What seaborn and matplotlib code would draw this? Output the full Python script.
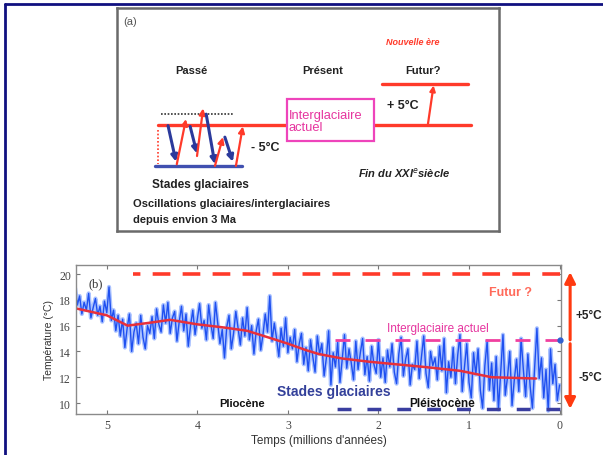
import numpy as np
import matplotlib.pyplot as plt
import seaborn as sns
from matplotlib.patches import Rectangle
from matplotlib.lines import Line2D

sns.set_theme(style="ticks")
plt.rcParams["font.family"] = ["Liberation Sans", "DejaVu Sans"]

# ---- panel (b) data: temperature (deg C) vs age (Ma) ----
ages = [5.350, 5.325, 5.300, 5.275, 5.250, 5.225, 5.200, 5.175, 5.150, 5.125,
        5.100, 5.075, 5.050, 5.025, 5.000, 4.975, 4.950, 4.925, 4.900, 4.875,
        4.850, 4.825, 4.800, 4.775, 4.750, 4.725, 4.700, 4.675, 4.650, 4.625,
        4.600, 4.575, 4.550, 4.525, 4.500, 4.475, 4.450, 4.425, 4.400, 4.375,
        4.350, 4.325, 4.300, 4.275, 4.250, 4.225, 4.200, 4.175, 4.150, 4.125,
        4.100, 4.075, 4.050, 4.025, 4.000, 3.975, 3.950, 3.925, 3.900, 3.875,
        3.850, 3.825, 3.800, 3.775, 3.750, 3.725, 3.700, 3.675, 3.650, 3.625,
        3.600, 3.575, 3.550, 3.525, 3.500, 3.475, 3.450, 3.425, 3.400, 3.375,
        3.350, 3.325, 3.300, 3.275, 3.250, 3.225, 3.200, 3.175, 3.150, 3.125,
        3.100, 3.075, 3.050, 3.025, 3.000, 2.975, 2.950, 2.925, 2.900, 2.875,
        2.850, 2.825, 2.800, 2.775, 2.750, 2.725, 2.700, 2.675, 2.650, 2.625,
        2.600, 2.575, 2.550, 2.525, 2.500, 2.475, 2.450, 2.425, 2.400, 2.375,
        2.350, 2.325, 2.300, 2.275, 2.250, 2.225, 2.200, 2.175, 2.150, 2.125,
        2.100, 2.075, 2.050, 2.025, 2.000, 1.975, 1.950, 1.925, 1.900, 1.875,
        1.850, 1.825, 1.800, 1.775, 1.750, 1.725, 1.700, 1.675, 1.650, 1.625,
        1.600, 1.575, 1.550, 1.525, 1.500, 1.475, 1.450, 1.425, 1.400, 1.375,
        1.350, 1.325, 1.300, 1.275, 1.250, 1.225, 1.200, 1.175, 1.150, 1.125,
        1.100, 1.075, 1.050, 1.025, 1.000, 0.975, 0.950, 0.925, 0.900, 0.875,
        0.850, 0.825, 0.800, 0.775, 0.750, 0.725, 0.700, 0.675, 0.650, 0.625,
        0.600, 0.575, 0.550, 0.525, 0.500, 0.475, 0.450, 0.425, 0.400, 0.375,
        0.350, 0.325, 0.300, 0.275, 0.250, 0.225, 0.200, 0.175, 0.150, 0.125,
        0.100, 0.075, 0.050, 0.025, 0.000]
temps = [18.9, 17.6, 18.3, 16.9, 17.8, 17.2, 18.5, 16.6, 17.4, 18.1,
         16.8, 17.5, 16.3, 17.9, 17.0, 19.0, 16.4, 17.2, 15.6, 16.8,
         15.2, 16.5, 14.3, 15.8, 16.9, 14.0, 15.5, 16.2, 14.6, 16.8,
         15.1, 14.2, 16.0, 15.4, 16.7, 15.0, 17.3, 16.1, 15.5, 17.6,
         16.2, 17.8, 15.4, 16.6, 17.1, 14.8, 16.3, 17.5, 15.6, 16.9,
         14.4, 16.0, 17.2, 15.3, 16.5, 17.7, 15.8, 16.4, 14.9, 17.6,
         16.1, 15.0, 17.8, 16.2, 14.6, 15.7, 13.5, 15.9, 16.8, 14.2,
         15.4, 17.1, 15.8, 14.5, 16.6, 15.2, 17.4, 14.9, 16.0, 13.8,
         15.6, 16.5, 14.1, 15.3, 16.9, 15.5, 18.3, 14.8, 16.2, 15.0,
         13.6, 15.8, 14.4, 16.6, 13.9, 15.1, 14.2, 15.7, 13.2, 14.6,
         15.4, 13.0, 14.3, 12.5, 14.9, 13.6, 12.4, 15.2, 13.8, 14.6,
         12.1, 13.5, 15.6, 11.4, 13.9, 12.8, 14.7, 11.6, 13.4, 15.3,
         12.7, 14.2, 13.1, 11.8, 14.8, 12.6, 13.9, 15.0, 12.2, 13.6,
         11.7, 14.4, 13.0, 12.3, 14.9, 12.0, 13.5, 11.6, 14.1, 12.8,
         14.6, 12.4, 11.5, 13.8, 15.1, 12.1, 13.4, 14.2, 11.4, 13.0,
         12.6, 14.8, 11.9, 13.6, 15.2, 12.3, 11.2, 14.0, 12.9, 13.5,
         11.8, 14.4, 12.5, 15.0, 10.8, 13.2, 12.0, 14.3, 11.5, 13.7,
         15.3, 10.9, 12.8, 14.6, 11.6, 10.4, 13.9, 12.2, 14.2, 11.0,
         9.6, 12.9, 14.8, 11.0, 13.1, 10.2, 13.6, 9.5, 12.4, 15.3,
         10.6, 12.0, 14.0, 9.8, 11.8, 13.4, 10.9, 15.0, 12.6, 10.5,
         13.8, 11.3, 9.6, 12.8, 15.8, 11.9, 13.5, 10.4, 12.6, 9.4,
         14.2, 11.5, 13.0, 10.2, 11.4]

trend_ages = [5.35, 5.00, 4.77, 4.55, 4.30, 4.00, 3.70, 3.45, 3.20, 3.00,
              2.80, 2.66, 2.40, 2.10, 1.80, 1.50, 1.10, 0.75, 0.26]
trend_temps = [17.35, 16.8, 16.0, 16.2, 16.45, 16.1, 15.85, 15.6, 15.05, 14.6,
               14.1, 13.8, 13.45, 13.2, 13.0, 12.8, 12.5, 12.0, 11.9]

future_level, future_start = 20.0, 4.71
present_level, present_start = 14.9, 2.48
glacial_level, glacial_start = 9.5, 2.48

x_ticks = [5, 4, 3, 2, 1, 0]
y_ticks = [10, 12, 14, 16, 18, 20]

# ---- panel (a) schematic: x = position in box (0-100), y = anomaly (deg C) ----
present_anom, future_anom, glacial_anom = 0, 5, -5
present_line_x = [10.7, 92.7]
future_line_x = [69.4, 91.9]
glacial_line_x = [9.9, 32.6]
dotted_x, dotted_y = [11.5, 30.3], 1.3
osc_x0 = [13.3, 15.6, 19.1, 20.9, 23.3, 25.6, 28.2, 31.1]
osc_y0 = [-0.1, -4.8, -0.2, -3.8, 1.3, -5.0, -1.5, -5.0]
osc_x1 = [15.4, 18.0, 20.9, 22.5, 25.6, 27.7, 30.3, 32.9]
osc_y1 = [-4.5, 0.7, -3.5, 2.0, -4.8, -1.5, -4.5, -0.2]

RED = "#ff3a2a"
NAVY = "#2b3a9c"
PINK = "#e6359f"

fig = plt.figure(figsize=(6.03, 4.56), dpi=100)
fig.patch.set_facecolor("white")

# frame lines of the page
fig.add_artist(Line2D([0.0083, 1.0], [0.989, 0.989], color="#101080", lw=2))
fig.add_artist(Line2D([0.0083, 0.0083], [0.0, 0.989], color="#101080", lw=2))

# ================= panel (a) =================
axa = fig.add_axes([0.1945, 0.4919, 0.6327, 0.4877])
axa.set_xlim(0, 100)
axa.set_ylim(-12.9, 14.2)
axa.set_xticks([])
axa.set_yticks([])
for s in axa.spines.values():
    s.set_color("#6a6a6a")
    s.set_linewidth(1.8)

axa.plot(present_line_x, [present_anom] * 2, color=RED, lw=2.4, zorder=1)
axa.plot(future_line_x, [future_anom] * 2, color=RED, lw=2.4)
axa.plot(glacial_line_x, [glacial_anom] * 2, color="#4050b0", lw=2.4)
axa.plot(dotted_x, [dotted_y] * 2, color="#333333", lw=1.2, ls=(0, (1, 1)))
axa.plot([10.7, 10.7], [-0.6, -4.8], color=RED, lw=1.2, ls=(0, (1, 1.2)))

for x0, y0, x1, y1 in zip(osc_x0, osc_y0, osc_x1, osc_y1):
    c = NAVY if y1 < y0 else RED
    axa.annotate("", xy=(x1, y1), xytext=(x0, y0),
                 arrowprops=dict(arrowstyle="-|>", color=c, lw=2.2 if c == NAVY else 1.6,
                                 mutation_scale=9, shrinkA=0, shrinkB=0))

axa.annotate("", xy=(82.9, 4.8), xytext=(81.4, present_anom),
             arrowprops=dict(arrowstyle="-|>", color=RED, lw=1.6,
                             mutation_scale=8, shrinkA=0, shrinkB=0))

axa.add_patch(Rectangle((44.4, -1.95), 22.9, 5.15, facecolor="white",
                        edgecolor="#ee44bb", lw=1.6, zorder=3))
axa.text(44.9, 0.45, "Interglaciaire\nactuel", color=PINK, fontsize=9.3,
         va="center", ha="left", linespacing=1.0, zorder=4)

axa.text(1.5, 12.7, "(a)", color="#555555", fontsize=8, va="center", ha="left")
axa.text(77.5, 10.2, "Nouvelle ère", color=RED, fontsize=6.5, fontweight="bold",
         fontstyle="italic", ha="center", va="center")
for xc, lab in zip([19.4, 53.9, 80.1], ["Passé", "Présent", "Futur?"]):
    axa.text(xc, 6.7, lab, fontsize=8, fontweight="bold", color="#222222",
             ha="center", va="center")
axa.text(74.9, 2.4, "+ 5°C", fontsize=9, fontweight="bold", color="#222222",
         ha="center", va="center")
axa.text(38.7, -2.7, "- 5°C", fontsize=9, fontweight="bold", color="#222222",
         ha="center", va="center")
axa.text(21.7, -7.2, "Stades glaciaires", fontsize=8.5, fontweight="bold",
         color="#222222", ha="center", va="center")
axa.text(4.2, -9.5, "Oscillations glaciaires/interglaciaires", fontsize=8,
         fontweight="bold", color="#222222", ha="left", va="center")
axa.text(4.2, -11.5, "depuis envion 3 Ma", fontsize=8, fontweight="bold",
         color="#222222", ha="left", va="center")
axa.text(75.2, -5.7, "Fin du XXI$^{e}$siècle", fontsize=8, fontweight="bold",
         fontstyle="italic", color="#222222", ha="center", va="center")

# ================= panel (b) =================
ax = fig.add_axes([0.126, 0.0899, 0.805, 0.3268])
sns.lineplot(x=ages, y=temps, ax=ax, color="#86a8ff", lw=3.0, alpha=0.7, sort=False)
sns.lineplot(x=ages, y=temps, ax=ax, color="#1f50f0", lw=1.0, sort=False)
sns.lineplot(x=trend_ages, y=trend_temps, ax=ax, color="#e8303a", lw=1.8, sort=False)

ax.hlines(future_level, 0, future_start, color=RED, lw=2.6,
          linestyles=[(0, (4.9, 3.4))])
ax.hlines(present_level, 0, present_start, color="#f0409f", lw=2.0,
          linestyles=[(0, (5.4, 5.4))])
ax.hlines(glacial_level, 0, glacial_start, color="#3a3ea0", lw=2.5,
          linestyles=[(0, (4.0, 4.6))])

ax.set_xlim(5.34, -0.02)
ax.set_ylim(9.15, 20.7)
ax.set_xticks(x_ticks)
ax.set_yticks(y_ticks)
ax.tick_params(direction="in", length=3, color="#777777", labelsize=8.5,
               labelcolor="#444444", top=True, right=True, width=0.8)
for lab in ax.get_xticklabels() + ax.get_yticklabels():
    lab.set_family(["Liberation Serif", "DejaVu Serif"])
for s in ax.spines.values():
    s.set_color("#8a8a8a")
    s.set_linewidth(1.0)

ax.set_xlabel("Temps (millions d'années)", fontsize=8.5, color="#333333", labelpad=2)
ax.set_ylabel("Température (°C)", fontsize=7.5, color="#333333", labelpad=4)

ax.text(5.12, 19.3, "(b)", fontsize=9, color="#333333", ha="center", va="center",
        family=["Liberation Serif", "DejaVu Serif"])
ax.text(0.54, 18.6, "Futur ?", fontsize=9, color="#ff6a5a", fontweight="bold",
        ha="center", va="center")
ax.text(1.34, 15.8, "Interglaciaire actuel", fontsize=8.5, color=PINK,
        ha="center", va="center")
ax.text(2.49, 10.95, "Stades glaciaires", fontsize=10, color="#33409a",
        fontweight="bold", ha="center", va="center")
ax.text(3.51, 10.0, "Pliocène", fontsize=8, color="#111111", fontweight="bold",
        ha="center", va="center")
ax.text(1.30, 10.0, "Pléistocène", fontsize=8.5, color="#111111", fontweight="bold",
        ha="center", va="center")

# arrows outside the axes (+5 / -5 deg C)
trans = ax.get_yaxis_transform()
ax.annotate("", xy=(1.018, 20.15), xytext=(1.018, present_level), xycoords=trans,
            textcoords=trans, annotation_clip=False,
            arrowprops=dict(arrowstyle="-|>", color="#ff3a10", lw=2.2,
                            mutation_scale=16, shrinkA=0, shrinkB=0))
ax.annotate("", xy=(1.018, 9.55), xytext=(1.018, 14.6), xycoords=trans,
            textcoords=trans, annotation_clip=False,
            arrowprops=dict(arrowstyle="-|>", color="#ff3a10", lw=2.2,
                            mutation_scale=16, shrinkA=0, shrinkB=0))
ax.plot([0], [present_level], "o", color="#3060d0", ms=3.5, clip_on=False, zorder=5)
ax.text(1.03, 16.8, "+5°C", transform=trans, fontsize=8.5, fontweight="bold",
        color="#222222", ha="left", va="center", clip_on=False)
ax.text(1.035, 12.0, "-5°C", transform=trans, fontsize=8.5, fontweight="bold",
        color="#222222", ha="left", va="center", clip_on=False)

fig.savefig("out.png", dpi=100)
